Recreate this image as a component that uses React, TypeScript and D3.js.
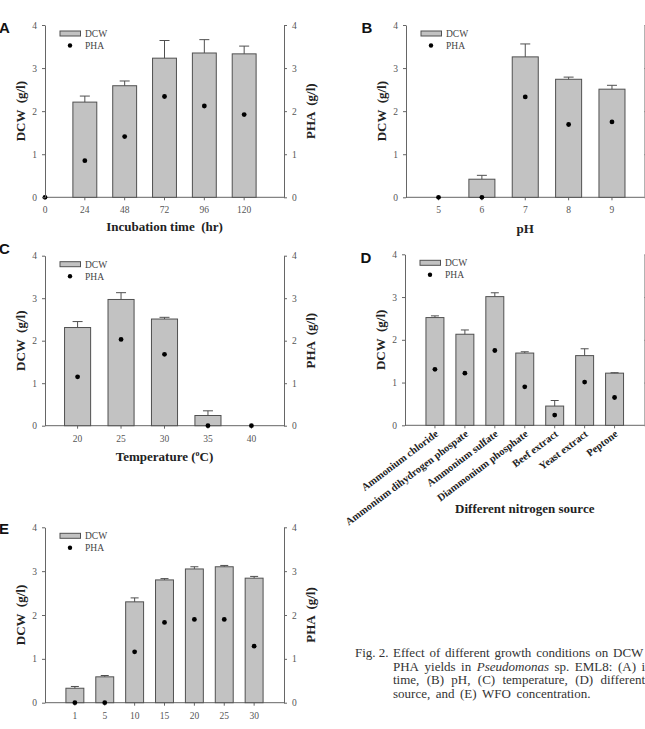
import React, { useEffect, useRef } from 'react';
import * as d3 from 'd3';

// (A) incubation time
const incubationTime = [0, 24, 48, 72, 96, 120];
const dcwTime = [0, 2.21, 2.59, 3.23, 3.35, 3.33];
const dcwTimeErr = [0, 0.14, 0.11, 0.41, 0.31, 0.18];
const phaTime = [0, 0.85, 1.41, 2.34, 2.12, 1.92];

// (B) pH
const phValues = [5, 6, 7, 8, 9];
const dcwPh = [0, 0.42, 3.26, 2.74, 2.51];
const dcwPhErr = [0, 0.09, 0.3, 0.05, 0.09];
const phaPh = [0, 0, 2.33, 1.69, 1.75];

// (C) temperature
const temperatures = [20, 25, 30, 35, 40];
const dcwTemp = [2.31, 2.97, 2.51, 0.24, 0];
const dcwTempErr = [0.14, 0.16, 0.04, 0.11, 0];
const phaTemp = [1.15, 2.03, 1.68, 0, 0];

// (D) nitrogen source
const nitrogenSources = [
  'Ammonium chloride',
  'Ammonium dihydrogen phospate',
  'Ammonium sulfate',
  'Diammonium phosphate',
  'Beef extract',
  'Yeast extract',
  'Peptone',
];
const dcwNitrogen = [2.52, 2.13, 3.01, 1.69, 0.45, 1.63, 1.22];
const dcwNitrogenErr = [0.04, 0.1, 0.09, 0.03, 0.13, 0.16, 0.01];
const phaNitrogen = [1.31, 1.22, 1.75, 0.9, 0.24, 1.01, 0.65];

// (E) WFO concentration
const wfoConc = [1, 5, 10, 15, 20, 25, 30];
const dcwWfo = [0.33, 0.59, 2.3, 2.8, 3.05, 3.1, 2.84];
const dcwWfoErr = [0.04, 0.03, 0.09, 0.03, 0.05, 0.03, 0.04];
const phaWfo = [0, 0, 1.16, 1.83, 1.9, 1.9, 1.29];

const yTicks = [0, 1, 2, 3, 4];

// justified caption: `anchor` is the word whose left edge sits at `at`
const captionLines = [
  { words: ['Effect', 'of', 'different', 'growth', 'conditions', 'on', 'DCW'], anchor: 6, at: 613 },
  { words: ['PHA', 'yields', 'in', '*Pseudomonas', 'sp.', 'EML8:', '(A)', 'incubation'], anchor: 7, at: 641.5 },
  { words: ['time,', '(B)', 'pH,', '(C)', 'temperature,', '(D)', 'different'], anchor: 6, at: 600.5 },
  { words: ['source,', 'and', '(E)', 'WFO', 'concentration.'], anchor: -1, at: 0 },
];

const W = 645;
const H = 729;
const serif = '"Liberation Serif", "Times New Roman", serif';
const sans = '"Liberation Sans", Arial, sans-serif';
const axisColor = '#666';

const panels = [
  {
    letter: 'A', lx: -1, ly: 33, left: 45, right: 284, top: 25, bottom: 197.3,
    cats: incubationTime, dcw: dcwTime, err: dcwTimeErr, pha: phaTime,
    linear: true, pad: 0, xTitle: 'Incubation time  (hr)', xTitleY: 231, cap: 5, rightLabels: true,
  },
  {
    letter: 'B', lx: 361.5, ly: 33, left: 406, right: 644.5, top: 25, bottom: 197.3,
    cats: phValues, dcw: dcwPh, err: dcwPhErr, pha: phaPh,
    linear: false, pad: 0.75, xTitle: 'pH', xTitleY: 233, cap: 5, rightLabels: false,
  },
  {
    letter: 'C', lx: -1, ly: 254, left: 45, right: 284, top: 255.7, bottom: 425.7,
    cats: temperatures, dcw: dcwTemp, err: dcwTempErr, pha: phaTemp,
    linear: false, pad: 0.75, xTitle: 'Temperature (°C)', xTitleY: 461, cap: 5, rightLabels: true,
  },
  {
    letter: 'D', lx: 360.5, ly: 263, left: 405, right: 644.5, top: 254.3, bottom: 425.3,
    cats: nitrogenSources, dcw: dcwNitrogen, err: dcwNitrogenErr, pha: phaNitrogen,
    linear: false, pad: 1, xTitle: 'Different nitrogen source', xTitleY: 513, cap: 4, rotated: true, rightLabels: false,
  },
  {
    letter: 'E', lx: -1, ly: 534, left: 45, right: 284, top: 527.3, bottom: 702.7,
    cats: wfoConc, dcw: dcwWfo, err: dcwWfoErr, pha: phaWfo,
    linear: false, pad: 1, xTitle: '', xTitleY: 0, cap: 4, rightLabels: true,
  },
];

function styleAxis(g) {
  g.select('.domain').attr('stroke', axisColor);
  g.selectAll('.tick line').attr('stroke', axisColor);
  g.selectAll('.tick text')
    .attr('fill', '#555')
    .style('font-family', serif)
    .style('font-size', '9.5px');
}

function drawPanel(svg, p) {
  const g = svg.append('g');
  const y = d3.scaleLinear().domain([0, 4]).range([p.bottom, p.top]);

  let pos;
  let step;
  if (p.linear) {
    const x = d3.scaleLinear().domain([0, 144]).range([p.left, p.right]);
    pos = (d) => x(d);
    step = x(24) - x(0);
  } else {
    const x = d3.scalePoint().domain(p.cats.map(String)).range([p.left, p.right]).padding(p.pad);
    pos = (d) => x(String(d));
    step = x.step();
  }
  const bw = step * 0.6;

  const rows = p.cats.map((c, i) => ({ c, dcw: p.dcw[i], err: p.err[i], pha: p.pha[i] }));

  // bottom axis line and ticks
  g.append('line')
    .attr('x1', p.left).attr('x2', p.right)
    .attr('y1', y(0)).attr('y2', y(0))
    .attr('stroke', axisColor);
  g.selectAll('.xtick')
    .data(rows.filter((d) => !(p.linear && d.c === 0)))
    .join('line')
    .attr('x1', (d) => pos(d.c)).attr('x2', (d) => pos(d.c))
    .attr('y1', y(0)).attr('y2', y(0) + 3)
    .attr('stroke', axisColor);

  if (p.rotated) {
    g.selectAll('.xlab')
      .data(rows)
      .join('text')
      .attr('transform', (d) => `translate(${pos(d.c) + 4},${y(0) + 10}) rotate(-37)`)
      .attr('text-anchor', 'end')
      .style('font-family', serif)
      .style('font-size', '10.5px')
      .style('font-weight', 'bold')
      .attr('fill', '#222')
      .text((d) => d.c);
  } else {
    g.selectAll('.xlab')
      .data(rows)
      .join('text')
      .attr('x', (d) => pos(d.c))
      .attr('y', y(0) + 16)
      .attr('text-anchor', 'middle')
      .style('font-family', serif)
      .style('font-size', '9.5px')
      .attr('fill', '#555')
      .text((d) => d.c);
  }

  // bars
  g.selectAll('.bar')
    .data(rows.filter((d) => d.dcw > 0))
    .join('rect')
    .attr('x', (d) => pos(d.c) - bw / 2)
    .attr('y', (d) => y(d.dcw))
    .attr('width', bw)
    .attr('height', (d) => y(0) - y(d.dcw))
    .attr('fill', '#c2c2c2')
    .attr('stroke', '#505050')
    .attr('stroke-width', 1);

  // upper error bars
  const eb = g.selectAll('.err').data(rows.filter((d) => d.dcw > 0 && d.err > 0)).join('g');
  eb.append('line')
    .attr('x1', (d) => pos(d.c)).attr('x2', (d) => pos(d.c))
    .attr('y1', (d) => y(d.dcw)).attr('y2', (d) => y(d.dcw + d.err))
    .attr('stroke', '#505050');
  eb.append('line')
    .attr('x1', (d) => pos(d.c) - p.cap).attr('x2', (d) => pos(d.c) + p.cap)
    .attr('y1', (d) => y(d.dcw + d.err)).attr('y2', (d) => y(d.dcw + d.err))
    .attr('stroke', '#505050');

  // PHA points
  g.selectAll('.pha')
    .data(rows)
    .join('circle')
    .attr('cx', (d) => pos(d.c))
    .attr('cy', (d) => y(d.pha))
    .attr('r', 2.4)
    .attr('fill', '#000');

  // y axes
  g.append('g')
    .attr('transform', `translate(${p.left},0)`)
    .call(d3.axisLeft(y).tickValues(yTicks).tickFormat(d3.format('d')).tickSize(3).tickPadding(5).tickSizeOuter(0))
    .call(styleAxis);
  g.append('g')
    .attr('transform', `translate(${p.right},0)`)
    .call(d3.axisRight(y).tickValues(yTicks)
      .tickFormat(p.rightLabels ? d3.format('d') : () => '')
      .tickSize(3).tickPadding(5).tickSizeOuter(0))
    .call(styleAxis);

  const midY = (p.top + p.bottom) / 2;
  g.append('text')
    .attr('transform', `translate(${p.left - 25},${midY}) rotate(-90)`)
    .attr('text-anchor', 'middle')
    .attr('dy', '0.35em')
    .style('font-family', serif)
    .style('font-size', '13px')
    .style('font-weight', 'bold')
    .attr('fill', '#222')
    .attr('xml:space', 'preserve')
    .text('DCW  (g/l)');
  if (p.rightLabels) {
    g.append('text')
      .attr('transform', `translate(${p.right + 26},${midY}) rotate(-90)`)
      .attr('text-anchor', 'middle')
      .attr('dy', '0.35em')
      .style('font-family', serif)
      .style('font-size', '13px')
      .style('font-weight', 'bold')
      .attr('fill', '#222')
      .attr('xml:space', 'preserve')
      .text('PHA  (g/l)');
  }

  if (p.xTitle) {
    const t = g.append('text')
      .attr('x', (p.left + p.right) / 2)
      .attr('y', p.xTitleY)
      .attr('text-anchor', 'middle')
      .style('font-family', serif)
      .style('font-size', '13px')
      .style('font-weight', 'bold')
      .attr('fill', '#222')
      .attr('xml:space', 'preserve');
    if (p.xTitle.includes('°C')) {
      t.append('tspan').text('Temperature (');
      t.append('tspan').attr('dy', -5).style('font-size', '8px').text('o');
      t.append('tspan').attr('dy', 5).text('C)');
    } else {
      t.text(p.xTitle);
    }
  }

  // legend
  const lg = g.append('g').attr('transform', `translate(${p.left + 15},${p.top + 6})`);
  lg.append('rect').attr('x', 0).attr('y', 0).attr('width', 20.5).attr('height', 5)
    .attr('fill', '#c2c2c2').attr('stroke', '#505050');
  lg.append('text').attr('x', 25).attr('y', 6).text('DCW')
    .style('font-family', serif).style('font-size', '9.5px').attr('fill', '#444');
  lg.append('circle').attr('cx', 10).attr('cy', 14.5).attr('r', 2.2).attr('fill', '#000');
  lg.append('text').attr('x', 25).attr('y', 18).text('PHA')
    .style('font-family', serif).style('font-size', '9.5px').attr('fill', '#444');

  // panel letter
  g.append('text')
    .attr('x', p.lx)
    .attr('y', p.ly)
    .style('font-family', sans)
    .style('font-size', '15px')
    .style('font-weight', 'bold')
    .attr('fill', '#111')
    .text(p.letter);
}

function drawCaption(svg) {
  const g = svg.append('g').style('font-family', serif).style('font-size', '13px').attr('fill', '#333');
  const left = 393;
  const lineY = [657, 670.5, 684, 697.5];
  g.append('text').attr('x', 355).attr('y', lineY[0]).text('Fig. 2.');

  captionLines.forEach((line, li) => {
    const nodes = line.words.map((w) => {
      const italic = w.startsWith('*');
      return g.append('text')
        .attr('y', lineY[li])
        .style('font-style', italic ? 'italic' : 'normal')
        .text(italic ? w.slice(1) : w);
    });
    const widths = nodes.map((n) => n.node().getComputedTextLength());
    let gap = 5.5;
    if (line.anchor > 0) {
      const before = d3.sum(widths.slice(0, line.anchor));
      gap = (line.at - left - before) / line.anchor;
    }
    let x = left;
    nodes.forEach((n, i) => {
      n.attr('x', x);
      x += widths[i] + gap;
    });
  });
}

export default function App() {
  const ref = useRef(null);

  useEffect(() => {
    const svg = d3.select(ref.current);
    svg.selectAll('*').remove();
    svg.append('rect').attr('width', W).attr('height', H).attr('fill', '#fff');
    panels.forEach((p) => drawPanel(svg, p));
    drawCaption(svg);
  }, []);

  return (
    <svg
      ref={ref}
      width={W}
      height={H}
      style={{ position: 'absolute', left: 0, top: 0, display: 'block' }}
    />
  );
}
